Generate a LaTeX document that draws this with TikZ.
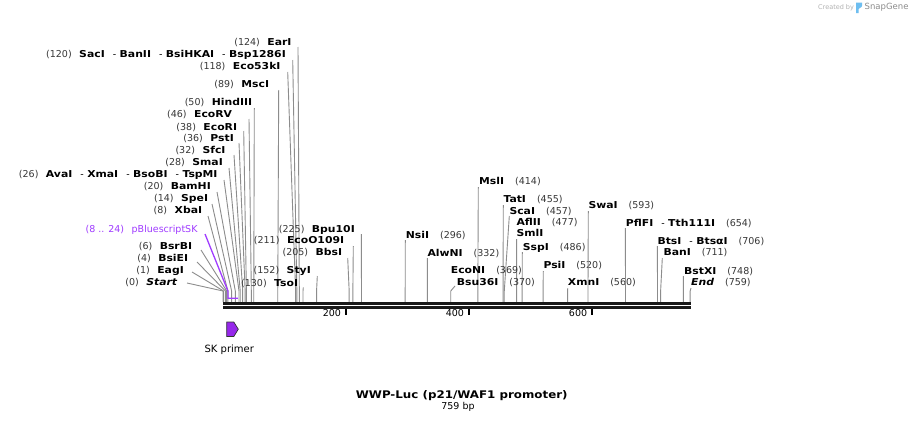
\documentclass[tikz,border=0pt]{standalone}
\usepackage{fontspec}
\setmainfont{DejaVu Sans}
\newfontfamily\rswide{DejaVu Sans}[FakeStretch=1.14]
\newfontfamily\rstitle{DejaVu Sans}[FakeStretch=1.13]
\definecolor{numc}{RGB}{55,55,55}
\definecolor{cutc}{RGB}{140,140,140}
\definecolor{featc}{RGB}{160,60,255}
\definecolor{primc}{RGB}{150,40,235}
\definecolor{logoc}{RGB}{110,190,240}
\newcommand{\rsN}[1]{{\rswide\bfseries #1}}
\newcommand{\rsB}[1]{{\color{numc}\fontsize{9.5}{11}\selectfont(#1)}}
\newcommand{\rsGL}{\hspace{7.5pt}}
\newcommand{\rsGR}{\hspace{11pt}}
\newcommand{\rsS}{\hspace{8pt}-\hspace{3.5pt}}
\newcommand{\rsL}[7]{%
  \node[lab,anchor=base east] (n#1) at ({#2},{#3+3.4}) {#4};
  \coordinate (a#1) at ({#5},{#6});
  \coordinate (b#1) at ({223+0.6155*#7},291);
  \coordinate (s#1) at ({223+0.6155*#7},302);
  \draw[cutline] (a#1) -- (b#1) -- (s#1);}
\newcommand{\rsR}[7]{%
  \node[lab,anchor=base west] (n#1) at ({#2},{#3+3.4}) {#4};
  \coordinate (a#1) at ({#5},{#6});
  \coordinate (b#1) at ({223+0.6155*#7},291);
  \coordinate (s#1) at ({223+0.6155*#7},302);
  \draw[cutline] (a#1) -- (b#1) -- (s#1);}
\begin{document}
\begin{tikzpicture}[x=1pt,y=-1pt,
  lab/.style={inner sep=0pt,font=\fontsize{9.5}{11}\selectfont},
  cutline/.style={draw=cutc,line width=0.9pt},
  featline/.style={draw=featc,line width=1.3pt},
  barline/.style={draw=black!90,line width=2.7pt},
  tickmark/.style={draw=black,line width=2pt},
  ticklab/.style={inner sep=0pt,anchor=base east,font=\fontsize{9.5}{10}\selectfont}]
\useasboundingbox[fill=white] (0,0) rectangle (915,423);

% left stack
\rsL{EarI}{291.7}{42.3}{\rsB{124}\rsGL\rsN{EarI}}{298}{47}{124}
\rsL{SacI}{286}{54.3}{\rsB{120}\rsGL\rsN{SacI}\rsS\rsN{BanII}\rsS\rsN{BsiHKAI}\rsS\rsN{Bsp1286I}}{292.7}{60}{120}
\rsL{Eco}{280.7}{66}{\rsB{118}\rsGL\rsN{Eco53kI}}{287.7}{72}{118}
\rsL{Msc}{269.3}{84}{\rsB{89}\rsGL\rsN{MscI}}{278.7}{90}{89}
\rsL{Hind}{252.3}{102.3}{\rsB{50}\rsGL\rsN{HindIII}}{254.3}{108}{50}
\rsL{EcoRV}{232.3}{114.3}{\rsB{46}\rsGL\rsN{EcoRV}}{249}{119}{46}
\rsL{EcoRI}{237.3}{126.7}{\rsB{38}\rsGL\rsN{EcoRI}}{243.7}{131}{38}
\rsL{Pst}{234}{138.3}{\rsB{36}\rsGL\rsN{PstI}}{239}{143}{36}
\rsL{Sfc}{225.7}{150}{\rsB{32}\rsGL\rsN{SfcI}}{234}{155}{32}
\rsL{Sma}{223}{162.3}{\rsB{28}\rsGL\rsN{SmaI}}{229}{168}{28}
\rsL{Ava}{217.7}{174.3}{\rsB{26}\rsGL\rsN{AvaI}\rsS\rsN{XmaI}\rsS\rsN{BsoBI}\rsS\rsN{TspMI}}{224}{180}{26}
\rsL{Bam}{211}{186}{\rsB{20}\rsGL\rsN{BamHI}}{217}{192}{20}
\rsL{Spe}{208.3}{198.3}{\rsB{14}\rsGL\rsN{SpeI}}{212}{204}{14}
\rsL{Xba}{202.3}{210}{\rsB{8}\rsGL\rsN{XbaI}}{208}{216}{8}
\rsL{BsrBI}{192.3}{246}{\rsB{6}\rsGL\rsN{BsrBI}}{201}{250}{6}
\rsL{BsiEI}{188.3}{258.3}{\rsB{4}\rsGL\rsN{BsiEI}}{197}{262}{4}
\rsL{Eag}{184}{270}{\rsB{1}\rsGL\rsN{EagI}}{192}{272}{1}
\rsL{Start}{177.3}{282.3}{\rsB{0}\rsGL{\rswide\bfseries\itshape Start}}{187}{283}{0}

% feature pBluescriptSK
\node[lab,anchor=base east,text=featc] (nPBS) at (197.7,232.4) {(8 .. 24)\rsGL pBluescriptSK};
\coordinate (aPBS) at (205,234);
\coordinate (bPBS) at ({223+0.6155*8},291);
\coordinate (sPBS) at ({223+0.6155*8},298.3);
\coordinate (ePBS) at ({223+0.6155*24},298.3);
\draw[featline] (aPBS) -- (bPBS) -- (sPBS) -- (ePBS);

% middle
\rsL{Bpu}{355}{228.7}{\rsB{225}\rsGL\rsN{Bpu10I}}{361.3}{234}{225}
\rsL{EcoO}{344.3}{240.3}{\rsB{211}\rsGL\rsN{EcoO109I}}{353.3}{246}{211}
\rsL{Bbs}{342.3}{252.3}{\rsB{205}\rsGL\rsN{BbsI}}{347.7}{258}{205}
\rsL{Sty}{311}{270}{\rsB{152}\rsGL\rsN{StyI}}{317.3}{276}{152}
\rsL{Tso}{298.3}{282.7}{\rsB{130}\rsGL\rsN{TsoI}}{303.3}{287.3}{130}

% right
\rsR{Nsi}{405.7}{235}{\rsN{NsiI}\rsGR\rsB{296}}{405.3}{240}{296}
\rsR{Alw}{427.3}{252.7}{\rsN{AlwNI}\rsGR\rsB{332}}{427.3}{258}{332}
\rsR{Msl}{479}{181}{\rsN{MslI}\rsGR\rsB{414}}{478.3}{187}{414}
\rsR{Tat}{503.3}{199}{\rsN{TatI}\rsGR\rsB{455}}{503.3}{205}{455}
\rsR{Sca}{509.3}{210.7}{\rsN{ScaI}\rsGR\rsB{457}}{509.3}{216}{457}
\node[lab,anchor=base west] (nAfl) at (516.3,225.7) {\rsN{AflII}\rsGR\rsB{477}};
\rsR{Sml}{516.3}{233.3}{\rsN{SmlI}}{516.6}{239}{477}
\rsR{Ssp}{522.7}{246.7}{\rsN{SspI}\rsGR\rsB{486}}{522.3}{252}{486}
\rsR{Psi}{543.3}{265}{\rsN{PsiI}\rsGR\rsB{520}}{543.3}{271}{520}
\node[lab,anchor=base west] (nEcoN) at (450.7,273.4) {\rsN{EcoNI}\rsGR\rsB{369}};
\rsR{Bsu}{456.7}{282.3}{\rsN{Bsu36I}\rsGR\rsB{370}}{455}{286}{370}
\rsR{Xmn}{567.7}{282.3}{\rsN{XmnI}\rsGR\rsB{560}}{567.7}{288}{560}
\rsR{Swa}{588.3}{205}{\rsN{SwaI}\rsGR\rsB{593}}{588.3}{211}{593}
\rsR{Pfl}{625.7}{222.7}{\rsN{PflFI}\rsS\rsN{Tth111I}\rsGR\rsB{654}}{625.3}{228}{654}
\rsR{Bts}{657.3}{240.7}{\rsN{BtsI}\rsS\rsN{BtsαI}\rsGR\rsB{706}}{657.3}{246}{706}
\rsR{Ban}{663.3}{252.3}{\rsN{BanI}\rsGR\rsB{711}}{662.3}{258}{711}
\rsR{Bst}{684}{270.7}{\rsN{BstXI}\rsGR\rsB{748}}{683.3}{276}{748}
\rsR{End}{691}{282.3}{{\rswide\bfseries\itshape End}\rsGR\rsB{759}}{691}{288}{759}

% sequence bar
\coordinate (barS1) at (223,303.3);
\coordinate (barE1) at (691,303.3);
\coordinate (barS2) at (223,307.3);
\coordinate (barE2) at (691,307.3);
\draw[barline] (barS1) -- (barE1);
\draw[barline] (barS2) -- (barE2);
\foreach \t in {200,400,600}{
  \coordinate (tk\t) at ({223+0.6155*\t},308.5);
  \coordinate (tb\t) at ({223+0.6155*\t},314.5);
  \draw[tickmark] (tk\t) -- (tb\t);
  \node[ticklab] (tl\t) at ({223+0.6155*\t-5},316) {\t};
}

% SK primer
\draw[fill=primc,draw=black!80,line width=0.7pt] (226.7,322) -- (233.8,322) -- (238.3,329.2) -- (233.8,336.5) -- (226.7,336.5) -- cycle;
\node[inner sep=0pt,font=\fontsize{10}{11}\selectfont] (skp) at (229.3,349.5) {SK primer};

% title
\node[inner sep=0pt,font=\fontsize{10.5}{12}\rstitle\bfseries] (title) at (461.7,395.5) {WWP-Luc (p21/WAF1 promoter)};
\node[inner sep=0pt,font=\fontsize{9.5}{11}\selectfont] (len) at (458,407) {759 bp};

% credit
\node[inner sep=0pt,anchor=west,text=black!30,font=\fontsize{6.5}{8}\selectfont] (cr) at (818,7.5) {Created by};
\fill[logoc] (856,2.5) -- (862,2.5) .. controls (863,6) and (861,8.5) .. (858.5,9) -- (858.5,13) -- (856,13) -- cycle;
\node[inner sep=0pt,anchor=west,text=black!45,font=\fontsize{8.5}{10}\selectfont] (sg) at (864.5,7.5) {SnapGene};
\end{tikzpicture}
\end{document}
